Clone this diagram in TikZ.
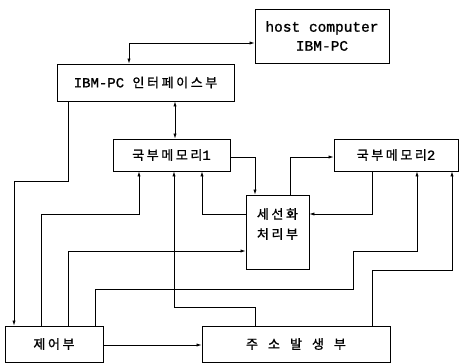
\documentclass[tikz,border=0pt]{standalone}
\usepackage{fontspec}
\setmonofont[FakeBold=1.2]{Liberation Mono}
\newfontfamily\kr[LetterSpace=20,FakeBold=1.2]{Noto Sans CJK KR}
\usetikzlibrary{arrows.meta}
\tikzset{
  box/.style={draw, line width=0.8pt, inner sep=0pt, align=center},
  arr/.style={line width=0.7pt, -{Latex[length=5pt,width=3.2pt]}},
  barr/.style={line width=0.7pt, {Latex[length=5pt,width=3.2pt]}-{Latex[length=5pt,width=3.2pt]}},
  mono/.style={font=\ttfamily\fontsize{14.5}{19}\selectfont},
  kor/.style={font=\kr\fontsize{13}{20}\selectfont}
}
\begin{document}
\begin{tikzpicture}[x=1pt,y=-1pt]
\useasboundingbox (0,0) rectangle (459,364);
\node[box, mono, minimum width=134pt, minimum height=54pt] (host) at (322,36) {host computer\\IBM-PC};
\node[box, minimum width=177pt, minimum height=37pt] (ibm) at (145.5,82.5) {{\ttfamily\fontsize{14}{19}\selectfont IBM-PC }{\kr\fontsize{13}{19}\selectfont 인터페이스부}};
\node[box, minimum width=117pt, minimum height=32pt] (mem1) at (171.5,155) {{\kr\fontsize{13}{19}\selectfont 국부메모리}{\ttfamily\fontsize{14}{19}\selectfont 1}};
\node[box, minimum width=124pt, minimum height=32pt] (mem2) at (396,155) {{\kr\fontsize{13}{19}\selectfont 국부메모리}{\ttfamily\fontsize{14}{19}\selectfont 2}};
\node[box, minimum width=63pt, minimum height=74pt] (thin) at (277.5,232) {};
\node[kor, align=center] (thintext) at (277.5,224) {세선화\\처리부};
\node[box, kor, minimum width=98pt, minimum height=36pt] (ctrl) at (54,344) {제어부};
\node[box, kor, minimum width=188pt, minimum height=36pt] (addr) at (296,344) {주\hspace{10pt}소\hspace{10pt}발\hspace{10pt}생\hspace{10pt}부};

\draw[barr] (129,0 |- ibm.north) |- (host.west |- 0,43);
\draw[barr] (175,0 |- ibm.south) -- (175,0 |- mem1.north);
\draw[arr] (mem1.east |- 0,157) -| (255,0 |- thin.north);
\draw[arr] (290,0 |- thin.north) |- (mem2.west |- 0,157);
\draw[arr] (thin.west |- 0,214) -| (202,0 |- mem1.south);
\draw[arr] (372,0 |- mem2.south) |- (thin.east |- 0,214);
\draw[arr] (68,0 |- ibm.south) -- (68,181) -| (14,0 |- ctrl.north);
\draw[arr] (41,0 |- ctrl.north) |- (139,214) -- (139,0 |- mem1.south);
\draw[arr] (68,0 |- ctrl.north) |- (thin.west |- 0,251);
\draw[arr] (95,0 |- ctrl.north) |- (353,289) |- (417,251) -- (417,0 |- mem2.south);
\draw[arr] (255,0 |- addr.north) |- (174,307) -- (174,0 |- mem1.south);
\draw[arr] (372,0 |- addr.north) |- (452,270) -- (452,0 |- mem2.south);
\draw[arr] (ctrl.east |- 0,345) -- (addr.west |- 0,345);
\end{tikzpicture}
\end{document}
